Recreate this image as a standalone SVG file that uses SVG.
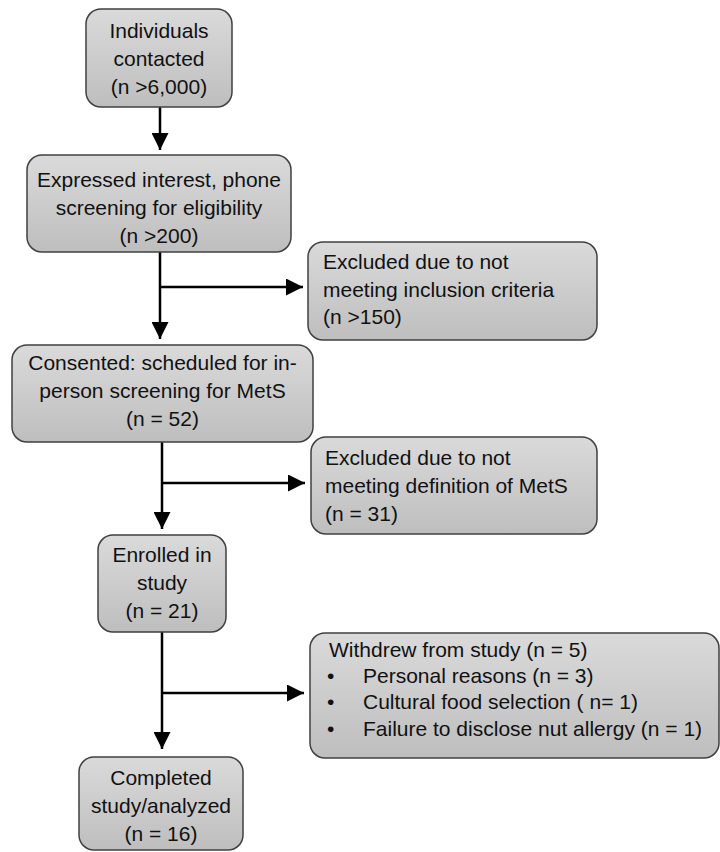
<svg xmlns="http://www.w3.org/2000/svg" width="720" height="852" viewBox="0 0 720 852">
<defs>
<linearGradient id="g" x1="0" y1="0" x2="0" y2="1">
<stop offset="0" stop-color="#dadada"/>
<stop offset="1" stop-color="#bebebe"/>
</linearGradient>
<marker id="ah" markerUnits="userSpaceOnUse" markerWidth="17" markerHeight="17" viewBox="0 0 16 16" refX="16" refY="8" orient="auto">
<path d="M0,0 L16,8 L0,16 Z" fill="#000"/>
</marker>
<style>
.box{fill:url(#g);stroke:#404040;stroke-width:1.5}
text{font-family:"Liberation Sans",Arial,sans-serif;font-size:21px;fill:#111}
.c{text-anchor:middle}
.ln{fill:none;stroke:#000;stroke-width:2.5}
</style>
</defs>
<rect width="720" height="852" fill="#fff"/>
<g id="connectors">
<path class="ln" d="M160,107 V150" marker-end="url(#ah)"/>
<path class="ln" d="M160,252 V339" marker-end="url(#ah)"/>
<path class="ln" d="M160,287 H303" marker-end="url(#ah)"/>
<path class="ln" d="M162,442 V529" marker-end="url(#ah)"/>
<path class="ln" d="M162,483 H305" marker-end="url(#ah)"/>
<path class="ln" d="M162,632 V749" marker-end="url(#ah)"/>
<path class="ln" d="M162,693 H304" marker-end="url(#ah)"/>
</g>
<g id="n1">
<rect class="box" x="86" y="9" width="146" height="98" rx="15"/>
<text class="c" x="159" y="38">Individuals</text>
<text class="c" x="159" y="66">contacted</text>
<text class="c" x="159" y="94">(n &gt;6,000)</text>
</g>
<g id="n2">
<rect class="box" x="27" y="155" width="264" height="97" rx="15"/>
<text class="c" x="159" y="187">Expressed interest, phone</text>
<text class="c" x="159" y="215">screening for eligibility</text>
<text class="c" x="159" y="243">(n &gt;200)</text>
</g>
<g id="n3">
<rect class="box" x="308" y="242" width="289" height="98" rx="15"/>
<text x="323" y="269">Excluded due to not</text>
<text x="323" y="297">meeting inclusion criteria</text>
<text x="323" y="324">(n &gt;150)</text>
</g>
<g id="n4">
<rect class="box" x="12" y="345" width="301" height="97" rx="15"/>
<text class="c" x="162.5" y="370">Consented: scheduled for in-</text>
<text class="c" x="162.5" y="398">person screening for MetS</text>
<text class="c" x="162.5" y="426">(n = 52)</text>
</g>
<g id="n5">
<rect class="box" x="311" y="437" width="286" height="97" rx="15"/>
<text x="325" y="465">Excluded due to not</text>
<text x="325" y="493">meeting definition of MetS</text>
<text x="325" y="521">(n = 31)</text>
</g>
<g id="n6">
<rect class="box" x="98" y="535" width="128" height="97" rx="15"/>
<text class="c" x="162" y="562">Enrolled in</text>
<text class="c" x="162" y="590">study</text>
<text class="c" x="162" y="618">(n = 21)</text>
</g>
<g id="n7">
<rect class="box" x="310" y="633" width="409" height="125" rx="15"/>
<text x="329" y="657">Withdrew from study (n = 5)</text>
<text x="327" y="683">•</text>
<text x="363" y="683">Personal reasons (n = 3)</text>
<text x="327" y="709">•</text>
<text x="363" y="709">Cultural food selection ( n= 1)</text>
<text x="327" y="736">•</text>
<text x="363" y="736">Failure to disclose nut allergy (n = 1)</text>
</g>
<g id="n8">
<rect class="box" x="79" y="757" width="164" height="93" rx="15"/>
<text class="c" x="161" y="785">Completed</text>
<text class="c" x="161" y="813">study/analyzed</text>
<text class="c" x="161" y="841">(n = 16)</text>
</g>
</svg>
